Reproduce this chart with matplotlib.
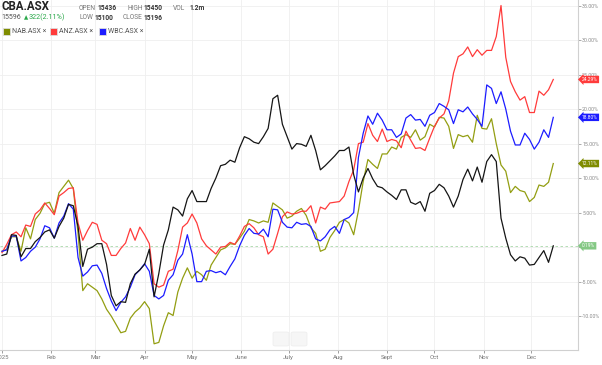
import matplotlib
matplotlib.use("Agg")
import matplotlib.pyplot as plt
import matplotlib.transforms as mtransforms
from matplotlib.patches import Rectangle, FancyBboxPatch
import pandas as pd

plt.rcParams["font.family"] = ["Roboto", "DejaVu Sans"]

# % change since 1 Jan 2025, sampled every 3 days
dates = pd.date_range("2025-01-01", periods=117, freq="3D")

cba = [-1.2, -1.0, 1.8, 1.7, -1.4, -0.2, -0.2, 0.8, 1.4, 2.2,
       2.5, 1.3, 3.0, 4.2, 6.2, 6.0, 3.0, -2.8, -0.3, 0.0,
       0.5, 0.5, -2.5, -7.0, -8.5, -7.9, -8.0, -5.3, -3.9, -3.3,
       -2.5, -0.3, -7.2, -3.8, 0.3, 2.5, 5.8, 5.4, 4.5, 7.0,
       8.2, 6.6, 6.6, 6.6, 8.5, 10.0, 11.8, 12.0, 12.6, 12.3,
       14.4, 16.0, 15.7, 15.2, 15.0, 16.0, 17.2, 21.5, 22.0, 17.8,
       16.0, 14.2, 15.0, 14.9, 14.6, 16.2, 14.0, 11.2, 11.8, 12.5,
       13.2, 14.0, 14.0, 14.5, 10.5, 8.0, 10.0, 11.4, 9.9, 8.8,
       8.6, 8.0, 7.5, 6.9, 8.3, 8.3, 6.5, 6.2, 6.6, 5.2,
       7.8, 8.2, 9.1, 8.6, 7.4, 5.8, 7.4, 9.8, 11.3, 9.6,
       11.6, 9.4, 12.4, 13.4, 12.4, 4.2, 1.3, -1.1, -2.0, -1.4,
       -1.6, -2.6, -2.5, -1.5, -0.5, -2.2, 0.19]

nab = [-0.6, -0.3, 1.5, 1.5, -0.6, 2.8, 1.2, 4.0, 4.9, 6.3,
       6.5, 4.9, 7.9, 8.8, 9.7, 8.5, 2.0, -6.3, -5.3, -5.8,
       -6.3, -7.5, -9.0, -10.0, -11.2, -12.4, -12.2, -10.3, -9.4, -8.8,
       -7.9, -8.9, -14.0, -13.8, -11.4, -9.5, -9.9, -6.5, -4.5, -3.0,
       -4.5, -3.5, -4.0, -4.8, -2.6, -1.5, -0.4, -0.1, 0.5, 0.4,
       1.3, 2.3, 4.0, 3.8, 3.5, 3.8, 3.6, 6.4, 5.9, 5.4,
       4.2, 4.5, 5.2, 5.6, 4.6, 2.8, 2.0, -0.6, -0.3, 1.4,
       2.4, 3.6, 4.0, 3.5, 1.8, 5.3, 9.5, 12.7, 12.0, 11.4,
       13.5, 13.5, 14.5, 14.2, 15.9, 16.3, 15.9, 17.0, 15.5, 16.0,
       17.8, 17.4, 18.8, 18.7, 17.5, 14.3, 16.3, 16.0, 16.2, 15.2,
       19.1, 17.2, 17.1, 18.6, 15.0, 11.9, 11.0, 7.9, 8.8, 8.2,
       8.0, 6.6, 7.2, 9.0, 8.8, 9.4, 12.11]

anz = [-0.8, 0.4, 1.8, 2.2, 1.5, 3.2, 3.0, 4.8, 5.4, 6.4,
       5.6, 4.7, 7.4, 7.9, 8.5, 8.6, 3.5, 1.0, 2.4, 3.6,
       3.3, 1.0, 0.5, -1.2, -1.2, -0.2, 0.6, 2.7, 1.0, 2.9,
       1.8, 0.5, -5.3, -5.8, -5.5, -3.5, -3.2, -0.5, 2.9, 3.5,
       4.8, 3.5, 1.2, 0.2, -0.4, -1.0, 0.0, 0.1, 0.7, 0.4,
       1.6, 3.0, 3.4, 2.8, 1.8, 1.5, -1.0, -0.3, 2.0, 4.4,
       5.1, 4.8, 4.9, 5.2, 5.2, 6.0, 3.5, 5.8, 5.5, 6.4,
       6.5, 6.6, 7.4, 9.5, 11.2, 15.0, 15.2, 17.9, 16.2, 15.3,
       17.1, 15.3, 15.6, 15.4, 14.4, 16.8, 15.5, 14.3, 14.4, 14.0,
       15.8, 17.5, 18.7, 19.3, 21.2, 25.2, 27.6, 28.0, 29.0, 27.6,
       28.6, 27.8, 28.5, 28.5, 30.5, 35.0, 27.5, 24.0, 22.5, 21.3,
       21.8, 19.5, 19.5, 22.6, 22.0, 22.8, 24.29]

wbc = [-0.6, -0.4, 1.6, 1.6, -2.0, -1.5, -0.6, 0.0, 1.2, 3.1,
       2.8, 1.3, 3.5, 4.5, 6.3, 5.5, -1.5, -4.2, -3.6, -2.7,
       -2.6, -3.8, -6.0, -7.8, -9.2, -8.0, -7.2, -5.8, -4.0, -3.3,
       -2.4, -3.5, -7.0, -7.5, -7.0, -4.8, -4.0, -1.9, -1.0, 1.8,
       -1.0, -5.0, -5.0, -3.5, -3.4, -3.7, -3.5, -4.0, -2.8, -1.7,
       0.2, 1.7, 2.7, 2.0, 1.9, 2.6, 1.5, 5.5, 5.4, 3.6,
       2.9, 2.8, 3.6, 3.3, 3.4, 3.0, 1.2, 0.9, 1.5, 2.5,
       3.0, 2.0, 4.0, 4.3, 5.0, 13.0, 16.5, 19.0, 17.8, 19.4,
       18.4, 17.0, 17.0, 15.9, 16.4, 18.7, 19.2, 18.4, 18.5, 17.5,
       19.1, 19.5, 20.8, 20.4, 19.9, 17.9, 19.9, 19.6, 20.3, 19.3,
       18.5, 17.5, 23.5, 23.0, 20.8, 22.5, 20.0, 16.8, 14.8, 14.8,
       16.5, 15.6, 14.2, 15.2, 17.0, 15.9, 18.80]

names = ["NAB.ASX", "ANZ.ASX", "WBC.ASX", "CBA.ASX"]
colors = ["#939e12", "#ff3b3b", "#1c1cff", "#151515"]
tag_colors = ["#7f8c00", "#ff3b3b", "#1c1cff", "#84c884"]

month_ticks = pd.date_range("2025-01-01", "2025-12-01", freq="MS")
month_labels = ["2025", "Feb", "Mar", "Apr", "May", "June", "July",
                "Aug", "Sept", "Oct", "Nov", "Dec"]
y_ticks = [35, 30, 25, 20, 15, 10, 5, 0, -5, -10]

W, H = 602, 365
fig = plt.figure(figsize=(W / 100, H / 100), dpi=100)
ax = fig.add_axes([0, 15 / H, 578 / W, 350 / H])

start = pd.Timestamp("2025-01-01")
ax.set_xlim(start - pd.Timedelta(days=1.26), start + pd.Timedelta(days=363.6))
ax.set_ylim(-14.9, 35.8)

for t in y_ticks:
    ax.axhline(t, color="#efefef", lw=0.6, zorder=0)
for m in month_ticks:
    ax.axvline(m, color="#efefef", lw=0.6, zorder=0)

for vals, c in zip([nab, anz, wbc, cba], colors):
    ax.plot(dates, vals, color=c, lw=0.9, zorder=2)

# last-value line for CBA
ax.axhline(cba[-1], color="#a8d8a8", lw=0.6, ls=(0, (3, 3)), zorder=1)

for s in ["left", "top"]:
    ax.spines[s].set_visible(False)
for s in ["right", "bottom"]:
    ax.spines[s].set_color("#d0d0d0")
    ax.spines[s].set_linewidth(0.8)

ax.yaxis.tick_right()
# the 0% label sits under the CBA value tag
ax.set_yticks(y_ticks, ["" if t == 0 else f"{t:.2f}%" for t in y_ticks])
ax.set_xticks(month_ticks, month_labels)
ax.tick_params(axis="y", labelsize=3.8, colors="#8a8a8a", length=2, width=0.5, pad=1)
ax.tick_params(axis="x", labelsize=4.3, colors="#777777", length=2, width=0.5, pad=1.5)

# value tags at right edge
trans = mtransforms.blended_transform_factory(ax.transAxes, ax.transData)
for vals, tc in zip([anz, wbc, nab, cba], [tag_colors[1], tag_colors[2], tag_colors[0], tag_colors[3]]):
    v = vals[-1]
    ax.text(1.0 + 4 / 578, v, f"{v:.2f}%", transform=trans, ha="left", va="center",
            fontsize=3.5, color="white", clip_on=False, zorder=5,
            bbox=dict(boxstyle="larrow,pad=0.25", fc=tc, ec="none"))

# faint navigator buttons
for x0 in [273, 291]:
    fig.patches.append(FancyBboxPatch((x0 / W, 1 - 346 / H), 16 / W, 14 / H,
                                      boxstyle="round,pad=0,rounding_size=0.004",
                                      transform=fig.transFigure, fc="#f6f6f6",
                                      ec="#ececec", lw=0.5))


def px(x, y):
    return x / W, 1 - y / H


# header
fig.text(*px(1, 7), "CBA.ASX", fontsize=8.3, fontweight="bold", color="#222222", va="center")
fig.text(*px(1, 17.5), "15596", fontsize=5.0, color="#555555", va="center")
fig.text(*px(23.5, 17.5), "\u25b2", fontsize=4.0, color="#2aa84a", va="center",
         family=["DejaVu Sans"])
fig.text(*px(29, 17.5), "322(2.11%)", fontsize=5.2, color="#2aa84a", va="center")

hdr = [(79, 8, "OPEN", False), (97, 8, "15436", True), (127, 8, "HIGH", False),
       (143, 8, "15450", True), (173, 8, "VOL", False), (189, 8, "1.2m", True),
       (79, 17.5, "LOW", False), (94, 17.5, "15100", True), (123, 17.5, "CLOSE", False),
       (143, 17.5, "15196", True)]
for x, y, s, b in hdr:
    fig.text(*px(x, y), s, fontsize=4.8, va="center",
             color="#333333" if b else "#777777", fontweight="bold" if b else "normal")

# legend chips
legend_x = [3, 50, 99]
for lx, n, c in zip(legend_x, names[:3], colors[:3]):
    sq = c if n != "NAB.ASX" else "#7f8c00"
    fig.patches.append(Rectangle((lx / W, 1 - 35 / H), 7 / W, 7 / H,
                                 transform=fig.transFigure, fc=sq, ec="#dddddd", lw=0.6))
    fig.text(*px(lx + 9, 31.5), n + " \u00d7", fontsize=5.0, color="#555555", va="center")

fig.savefig("out.png", dpi=100)
